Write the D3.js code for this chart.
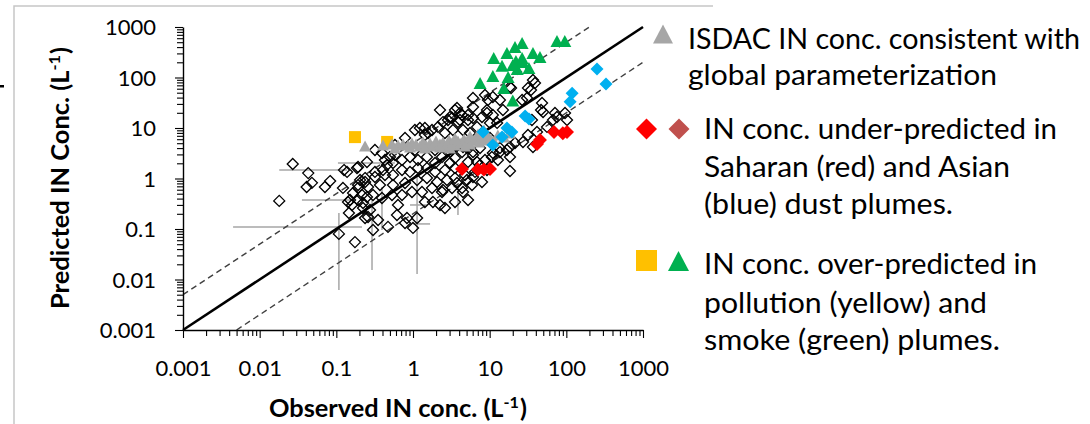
<!DOCTYPE html>
<html>
<head>
<meta charset="utf-8">
<script src="https://cdn.jsdelivr.net/npm/d3@7"></script>
<style>
  html, body { margin: 0; padding: 0; background: #fff; }
  svg { display: block; }
</style>
</head>
<body>
<svg id="chart" width="1090" height="424"></svg>
<script>
// ---------- data ----------
const decades = [0.001, 0.01, 0.1, 1, 10, 100, 1000];
const decadeLabels = ["0.001", "0.01", "0.1", "1", "10", "100", "1000"];

// [observed, predicted] IN concentration, L^-1
const otherPoints = [
  [0.018,0.36],[0.027,1.94],[0.043,1.28],[0.048,0.82],[0.041,0.68],[0.083,0.89],[0.071,0.68],
  [0.126,1.47],[0.186,1.61],[0.251,2.12],[0.122,0.65],[0.151,0.375],[0.146,0.207],[0.108,0.080],
  [0.175,0.055],[0.301,0.0955],[0.472,0.110],[0.618,0.189],[0.787,0.131],[1.0,0.105],[0.237,0.165],
  [0.350,0.151],[0.394,3.20],[0.582,2.92],[0.548,2.03],[0.406,1.47],[0.319,1.35],[0.204,0.934],
  [0.237,0.853],[0.259,0.679],[0.192,0.648],[0.165,0.516],[0.142,0.342],[0.160,0.299],[0.192,0.375],
  [0.251,0.430],[0.301,0.471],[0.223,0.261],[0.275,0.238],
  [6.06,39.3],[3.53,22.7],[4.36,18.1],[3.23,15.8],[5.22,18.1],[6.06,15.8],[7.94,16.5],[3.86,13.1],
  [2.46,13.1],[2.12,10.5],[1.77,9.12],[1.43,10.0],[1.23,10.0],[1.06,9.12],
  [0.192,1.69],[0.458,1.85],[0.719,2.32],[0.914,2.67],[1.16,2.32],[1.52,2.67],[1.94,2.03],[2.39,2.67],
  [3.04,2.03],[3.53,2.55],[4.36,3.35],[5.06,4.02],[6.06,2.92],[5.22,2.12],[3.53,1.61],[2.61,1.47],
  [1.94,1.35],[1.52,1.61],[1.16,1.61],[0.914,1.35],[0.719,1.47],[0.548,1.17],[0.431,1.17],[0.319,1.07],
  [0.237,1.02],[0.192,0.743],[0.371,0.743],[0.548,0.743],[0.787,0.815],[1.13,0.934],[1.52,1.02],
  [2.06,0.853],[2.77,0.934],[3.53,1.02],[4.77,1.17],[6.44,1.35],[7.48,1.85],[7.94,0.853],[5.88,0.743],
  [4.36,0.648],[3.23,0.648],[2.39,0.541],[1.77,0.648],[1.31,0.541],[0.970,0.541],[0.719,0.471],
  [0.532,0.471],[0.394,0.411],[0.216,0.471],[0.223,0.327],[0.637,0.299],[1.82,0.342],[3.53,0.342],
  [5.22,0.375],[2.61,0.261],
  [8.69,45.0],[11.0,41.1],[13.6,35.8],[18.4,64.9],[31.6,62.0],[39.0,77.8],[30.7,39.3],[48.2,31.3],
  [49.7,20.7],[35.6,14.4],[71.1,19.8],[96.1,19.8],[67.0,14.4],[102,14.4],[56.0,10.5],[41.4,8.33],
  [31.6,7.27],[27.2,5.28],[21.4,5.05],[18.4,4.21],[16.8,3.67],[13.6,3.35],[12.8,2.32],[10.7,2.67],
  [8.69,2.32],[6.84,2.12],[6.06,1.07],[5.06,0.934],[3.75,0.815],[2.46,0.592],[4.49,0.541],[18.4,1.41],
  [2.25,22.7],[3.04,16.5],[4.10,14.4],[5.22,14.4],[6.06,26.1],[9.23,22.7],[10.1,12.6],[12.5,12.6],
  [6.84,10.5],[3.32,9.12],[4.49,9.12],
  [36.7,89.2],[34.6,56.5],[19.0,62.0],[46.8,22.7],[75.5,16.5],[3.75,24.9],[4.10,19.8],[9.23,19.8],
  [11.0,18.1],[14.9,22.7],[1.57,7.96],[2.86,14.4],[4.49,4.21],[6.06,3.35],[11.0,3.20],[13.6,4.02],
  [18.4,2.67],[36.7,4.21],[9.23,1.47],[0.501,2.67],[0.138,1.35],[26.5,35.8],[9.5,35.8],
  [0.787,6.34],[1.43,7.27],[2.61,7.96],[5.54,7.96],[10.1,6.34],[1.06,3.67],[1.94,3.67],[3.04,3.35],
  [7.48,4.02],[0.582,4.61],[0.319,3.67],[0.431,2.32],
  [0.259,0.173],[0.835,0.165],[1.13,0.165],[1.43,0.342],[2.25,0.299]
];

const isdacPoints = [
  [0.237,4.40],[0.406,4.61],[0.532,4.82],[0.637,4.61],[0.740,4.82],[0.861,4.61],[0.970,5.05],
  [1.094,4.82],[1.233,4.40],[1.349,5.28],[1.476,4.61],[1.667,5.05],[1.823,4.40],[1.995,5.53],
  [2.25,4.82],[2.46,5.28],[2.69,4.40],[2.95,5.78],[3.23,5.05],[3.53,4.61],[3.86,5.53],[4.23,5.05],
  [4.62,6.06],[5.06,5.28],[5.54,4.82],[6.06,5.78],[6.63,6.34],[7.26,5.28],[7.94,6.64],[8.69,5.78],
  [9.51,6.95],[10.4,6.06],[11.4,5.53],[12.8,7.26],[15.4,6.64],[18.4,7.96],[8.43,9.13],[5.54,6.95],
  [3.53,6.34],[2.25,4.21],[1.433,4.02],[0.914,4.21],[0.582,4.02],[3.04,4.02],[4.77,4.40],[7.04,7.60]
];

const saharanPoints = [
  [4.36,1.54],[7.0,1.5],[8.4,1.5],[10.1,1.54],[41.4,4.8],[45.3,5.8],[69,8.3],[90,7.9],[102,8.3]
];

const asianPoints = [
  [251,147],[329,74],[119,49],[112,33],[29,17.3],[32.6,15.1],[16.8,10],[19.5,8.3],[14.5,6.6],[11,4.6],[8.2,8.3]
];

const pollutionPoints = [[0.175,6.6],[0.46,5.3]];

const smokePoints = [
  [7.5,78],[11,107],[11.3,243],[14.5,170],[15.3,62],[17.4,102],[16.8,305],[21.4,402],[26.5,482],
  [22,212],[22.9,148],[27,203],[32.5,154],[36.7,305],[45.3,255],[75.5,528],[95.5,528],[20,35],
  [20,177],[26.5,243]
];

// horizontal bars: [predicted, observed low, observed high]
const obsErrorBars = [
  [2.03,0.105,0.58],[1.47,0.018,0.138],[0.375,0.0356,0.16],[0.110,0.0045,0.216],
  [0.299,0.914,1.52],[0.126,1.0,1.67]
];
// vertical bars: [observed, predicted low, predicted high]
const predErrorBars = [
  [0.108,0.0062,0.207],[0.292,0.0154,0.375],[1.13,0.0129,1.17],[3.86,0.189,0.743],[0.394,0.0955,0.68]
];

// predicted = factor x observed
const oneToOneFactor = 1;
const bandFactors = [5, 0.2];

const legendEntries = [
  { lines: ["ISDAC IN conc. consistent with", "global parameterization"], widths: [392, 309] },
  { lines: ["IN conc. under-predicted in", "Saharan (red) and Asian", "(blue) dust plumes."], widths: [353, 306, 249] },
  { lines: ["IN conc. over-predicted in", "pollution (yellow) and", "smoke (green) plumes."], widths: [333, 283, 296] }
];

// ---------- drawing ----------
const svg = d3.select("#chart");
const FONT = "Lato, 'Open Sans', sans-serif";

const x = d3.scaleLog().domain([0.001, 1000]).range([183, 643]);
const y = d3.scaleLog().domain([0.001, 1000]).range([330, 27]);

// outer frame
svg.append("path")
  .attr("d", "M14,424 L14,6 L713,6")
  .attr("fill", "none").attr("stroke", "#c6c6c6").attr("stroke-width", 1.5);
svg.append("rect").attr("x", 0).attr("y", 85).attr("width", 4).attr("height", 2.5).attr("fill", "#000");

// symbol paths
const diamond = r => `M0,${-r}L${r},0L0,${r}L${-r},0Z`;
const triangle = (w, h) => `M0,${-h / 2}L${w / 2},${h / 2}L${-w / 2},${h / 2}Z`;

// error bars
const gErr = svg.append("g").attr("stroke", "#a6a6a6").attr("stroke-width", 1.5);
gErr.selectAll("line.h").data(obsErrorBars).join("line").attr("class", "h")
  .attr("x1", d => x(d[1])).attr("x2", d => x(d[2]))
  .attr("y1", d => y(d[0])).attr("y2", d => y(d[0]));
gErr.selectAll("line.v").data(predErrorBars).join("line").attr("class", "v")
  .attr("x1", d => x(d[0])).attr("x2", d => x(d[0]))
  .attr("y1", d => y(d[1])).attr("y2", d => y(d[2]));

// reference lines clipped to the axis domain
function factorLine(k) {
  const [lo, hi] = x.domain();
  const x0 = Math.max(lo, lo / k), x1 = Math.min(hi, hi / k);
  return [[x0, k * x0], [x1, k * x1]];
}
const lineGen = d3.line().x(d => x(d[0])).y(d => y(d[1]));
svg.selectAll("path.band").data(bandFactors).join("path").attr("class", "band")
  .attr("d", k => lineGen(factorLine(k)))
  .attr("fill", "none").attr("stroke", "#404040").attr("stroke-width", 1.4)
  .attr("stroke-dasharray", "6,4");
svg.append("path").attr("d", lineGen(factorLine(oneToOneFactor)))
  .attr("fill", "none").attr("stroke", "#000").attr("stroke-width", 2.6);

// axes
const isDecade = v => Math.abs(Math.log10(v) - Math.round(Math.log10(v))) < 1e-6;
const minorX = x.ticks().filter(v => !isDecade(v));
const minorY = y.ticks().filter(v => !isDecade(v));
const fmt = d => decadeLabels[decades.indexOf(d)];

const gxMinor = svg.append("g").attr("transform", `translate(0,${y(0.001)})`)
  .call(d3.axisBottom(x).tickValues(minorX).tickSize(6).tickSizeOuter(0).tickFormat(""));
const gyMinor = svg.append("g").attr("transform", `translate(${x(0.001)},0)`)
  .call(d3.axisLeft(y).tickValues(minorY).tickSize(6).tickSizeOuter(0).tickFormat(""));
gxMinor.select(".domain").remove();
gyMinor.select(".domain").remove();

const gx = svg.append("g").attr("transform", `translate(0,${y(0.001)})`)
  .call(d3.axisBottom(x).tickValues(decades).tickSize(8).tickSizeOuter(0).tickPadding(22).tickFormat(fmt));
const gy = svg.append("g").attr("transform", `translate(${x(0.001)},0)`)
  .call(d3.axisLeft(y).tickValues(decades).tickSize(8).tickSizeOuter(0).tickPadding(19).tickFormat(fmt));

svg.selectAll(".domain").attr("stroke", "#000").attr("stroke-width", 1.4);
svg.selectAll(".tick line").attr("stroke", "#000").attr("stroke-width", 1.1);
svg.selectAll(".tick text").attr("font-family", FONT).attr("font-size", 22).attr("fill", "#000");
gy.selectAll(".tick text").attr("dy", "0.36em");

// markers
svg.append("g").selectAll("path").data(otherPoints).join("path")
  .attr("d", diamond(5.5))
  .attr("transform", d => `translate(${x(d[0])},${y(d[1])})`)
  .attr("fill", "none").attr("stroke", "#000").attr("stroke-width", 1.3);

svg.append("g").selectAll("rect").data(pollutionPoints).join("rect")
  .attr("x", d => x(d[0]) - 6).attr("y", d => y(d[1]) - 6)
  .attr("width", 12).attr("height", 12).attr("fill", "#ffc000");

svg.append("g").selectAll("path").data(isdacPoints).join("path")
  .attr("d", triangle(12, 11))
  .attr("transform", d => `translate(${x(d[0])},${y(d[1])})`)
  .attr("fill", "#a6a6a6");

svg.append("g").selectAll("path").data(asianPoints).join("path")
  .attr("d", diamond(6.5))
  .attr("transform", d => `translate(${x(d[0])},${y(d[1])})`)
  .attr("fill", "#00b0f0");

svg.append("g").selectAll("path").data(saharanPoints).join("path")
  .attr("d", diamond(7))
  .attr("transform", d => `translate(${x(d[0])},${y(d[1])})`)
  .attr("fill", "#ff0000");

svg.append("g").selectAll("path").data(smokePoints).join("path")
  .attr("d", triangle(13, 12))
  .attr("transform", d => `translate(${x(d[0])},${y(d[1])})`)
  .attr("fill", "#00b050");

// axis titles
const yTitle = svg.append("text")
  .attr("transform", "translate(69,178) rotate(-90)")
  .attr("text-anchor", "middle").attr("font-family", FONT)
  .attr("font-weight", "bold").attr("font-size", 25).attr("fill", "#000")
  .attr("textLength", 262).attr("lengthAdjust", "spacingAndGlyphs");
yTitle.append("tspan").text("Predicted IN Conc. (L");
yTitle.append("tspan").attr("dy", -9).attr("font-size", 16).text("-1");
yTitle.append("tspan").attr("dy", 9).attr("dx", 1).text(")");

const xTitle = svg.append("text")
  .attr("x", 398).attr("y", 417)
  .attr("text-anchor", "middle").attr("font-family", FONT)
  .attr("font-weight", "bold").attr("font-size", 25).attr("fill", "#000")
  .attr("textLength", 258).attr("lengthAdjust", "spacingAndGlyphs");
xTitle.append("tspan").text("Observed IN conc. (L");
xTitle.append("tspan").attr("dy", -9).attr("font-size", 16).text("-1");
xTitle.append("tspan").attr("dy", 9).attr("dx", 1).text(")");

// legend
const lg = svg.append("g");
lg.append("path").attr("d", triangle(20, 19)).attr("transform", "translate(663,34)").attr("fill", "#a6a6a6");
lg.append("path").attr("d", diamond(10.5)).attr("transform", "translate(646.5,129)").attr("fill", "#ff0000");
lg.append("path").attr("d", diamond(10.5)).attr("transform", "translate(679,129)").attr("fill", "#c0504d");
lg.append("rect").attr("x", 636).attr("y", 250).attr("width", 21).attr("height", 21).attr("fill", "#ffc000");
lg.append("path").attr("d", triangle(21, 20)).attr("transform", "translate(678.5,261)").attr("fill", "#00b050");

const legendLayout = [
  { x: 688, baselines: [49, 85] },
  { x: 704, baselines: [139, 177, 214] },
  { x: 704, baselines: [274, 313, 350] }
];
legendEntries.forEach((entry, i) => {
  entry.lines.forEach((line, j) => {
    lg.append("text")
      .attr("x", legendLayout[i].x).attr("y", legendLayout[i].baselines[j])
      .attr("font-family", FONT).attr("font-size", 28).attr("fill", "#000")
      .attr("textLength", entry.widths[j]).attr("lengthAdjust", "spacingAndGlyphs")
      .text(line);
  });
});
</script>
</body>
</html>
